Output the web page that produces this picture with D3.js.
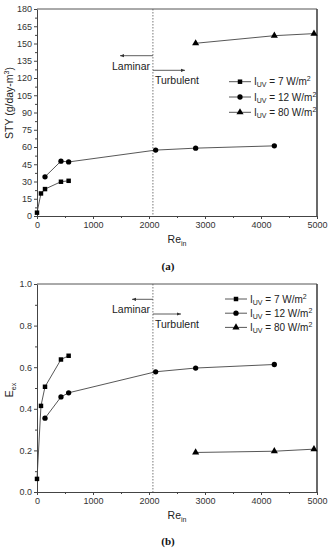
<title>STY and Eex vs Re</title>
<style>
  body { margin: 0; background: #fff; }
  svg { font-family: "Liberation Sans", Arial, sans-serif; }
</style>
<svg id="chart"></svg>
<script src="https://d3js.org/d3.v7.min.js"></script>
<script>
  // data
  var re7 = [0, 71, 143, 428, 565];
  var re12 = [143, 428, 565, 2119, 2833, 4238];
  var re80 = [2833, 4238, 4946];

  var sty7 = [2.9, 19.6, 23.4, 29.8, 30.6];
  var sty12 = [34.1, 47.7, 47.0, 57.3, 59.0, 61.0];
  var sty80 = [150.2, 156.8, 158.6];

  var eex7 = [0.063, 0.414, 0.506, 0.637, 0.655];
  var eex12 = [0.355, 0.457, 0.477, 0.578, 0.596, 0.613];
  var eex80 = [0.190, 0.196, 0.206];

  var legendLabels = ["7", "12", "80"];
  var reTransition = 2070;

  var width = 333, height = 550;
  var svg = d3.select("#chart").attr("width", width).attr("height", height);

  var x = d3.scaleLinear().domain([0, 5000]).range([37, 317]);

  function toPoints(xs, ys) {
    return xs.map(function(v, i) { return [v, ys[i]]; });
  }

  function drawPanel(opts) {
    var g = svg.append("g");
    var y = d3.scaleLinear().domain(opts.domain).range([opts.bottom, opts.top]);

    // minor ticks
    g.append("g")
      .attr("transform", "translate(0," + opts.bottom + ")")
      .call(d3.axisBottom(x).tickValues(d3.range(500, 5000, 1000)).tickSize(2).tickFormat(""))
      .call(function(a) { a.select(".domain").remove(); a.selectAll("line").attr("stroke", "#444"); });
    g.append("g")
      .attr("transform", "translate(37,0)")
      .call(d3.axisLeft(y).tickValues(opts.minor).tickSize(2).tickFormat(""))
      .call(function(a) { a.select(".domain").remove(); a.selectAll("line").attr("stroke", "#444"); });

    // major axes
    var xa = g.append("g")
      .attr("transform", "translate(0," + opts.bottom + ")")
      .call(d3.axisBottom(x).tickValues(d3.range(0, 5001, 1000)).tickFormat(d3.format("d"))
        .tickSize(3).tickSizeOuter(0).tickPadding(3));
    var ya = g.append("g")
      .attr("transform", "translate(37,0)")
      .call(d3.axisLeft(y).tickValues(opts.major).tickFormat(opts.fmt).tickSize(3).tickSizeOuter(0).tickPadding(2));
    [xa, ya].forEach(function(a) {
      a.attr("font-family", null);
      a.selectAll("text").attr("font-size", 9).attr("fill", "#333");
      a.selectAll("line").attr("stroke", "#444");
      a.select(".domain").attr("stroke", "#444");
    });

    // frame top and right
    g.append("line").attr("x1", 37).attr("x2", 317).attr("y1", opts.top).attr("y2", opts.top)
      .attr("stroke", "#555").attr("stroke-width", 1);
    g.append("line").attr("x1", 317).attr("x2", 317).attr("y1", opts.top).attr("y2", opts.bottom)
      .attr("stroke", "#444").attr("stroke-width", 1.6);

    // transition line
    g.append("line")
      .attr("x1", x(reTransition)).attr("x2", x(reTransition))
      .attr("y1", opts.top).attr("y2", opts.bottom)
      .attr("stroke", "#555").attr("stroke-width", 0.8).attr("stroke-dasharray", "1.5,1.5");

    // arrows
    var xt = x(reTransition);
    function arrow(y0, x1) {
      g.append("line").attr("x1", xt).attr("x2", x1).attr("y1", y0).attr("y2", y0)
        .attr("stroke", "#333").attr("stroke-width", 0.8);
      var d = x1 < xt ? 1 : -1;
      g.append("path")
        .attr("d", "M" + x1 + "," + y0 + "l" + (4 * d) + ",-1.6l0,3.2z")
        .attr("fill", "#333");
    }
    arrow(opts.lamY, opts.lamX);
    arrow(opts.turbY, opts.turbX);
    g.append("text").attr("x", 131).attr("y", opts.lamY + 14).attr("text-anchor", "middle")
      .attr("font-size", 10.5).attr("fill", "#222").text("Laminar");
    g.append("text").attr("x", 155).attr("y", opts.turbY + 14)
      .attr("font-size", 10.5).attr("fill", "#222").text("Turbulent");

    // series
    var line = d3.line().x(function(d) { return x(d[0]); }).y(function(d) { return y(d[1]); });
    var shapes = [d3.symbolSquare, d3.symbolCircle, d3.symbolTriangle];
    var sizes = [20, 22, 22];
    opts.series.forEach(function(pts, i) {
      g.append("path").attr("d", line(pts)).attr("fill", "none")
        .attr("stroke", "#444").attr("stroke-width", 0.9);
      g.selectAll(null).data(pts).enter().append("path")
        .attr("transform", function(d) { return "translate(" + x(d[0]) + "," + y(d[1]) + ")"; })
        .attr("d", d3.symbol().type(shapes[i]).size(sizes[i]))
        .attr("fill", "#000");
    });

    // legend
    legendLabels.forEach(function(lab, i) {
      var ly = opts.legY + i * opts.legStep;
      g.append("line").attr("x1", opts.legX).attr("x2", opts.legX + 22).attr("y1", ly).attr("y2", ly)
        .attr("stroke", "#444").attr("stroke-width", 0.9);
      g.append("path").attr("transform", "translate(" + (opts.legX + 11) + "," + ly + ")")
        .attr("d", d3.symbol().type(shapes[i]).size(sizes[i])).attr("fill", "#000");
      var t = g.append("text").attr("x", opts.legX + 25).attr("y", ly + 3.5)
        .attr("font-size", 10).attr("fill", "#222");
      t.append("tspan").text("I");
      t.append("tspan").attr("font-size", 7).attr("dy", 2).text("UV");
      t.append("tspan").attr("dy", -2).text(" = " + lab + " W/m");
      t.append("tspan").attr("font-size", 7).attr("dy", -4).text("2");
    });

    // axis titles
    var xl = g.append("text").attr("x", 177).attr("y", opts.bottom + 27).attr("text-anchor", "middle")
      .attr("font-size", 10.5).attr("fill", "#222");
    xl.append("tspan").text("Re");
    xl.append("tspan").attr("font-size", 7).attr("dy", 2.5).text("in");

    var yl = g.append("text")
      .attr("transform", "translate(13," + opts.yLabelY + ") rotate(-90)")
      .attr("text-anchor", "middle").attr("font-size", 10.5).attr("fill", "#222");
    opts.yLabel(yl);

    g.append("text").attr("x", 168).attr("y", opts.capY)
      .attr("text-anchor", "middle").style("font-family", "'Liberation Serif', serif")
      .attr("font-size", 11).attr("font-weight", "bold").attr("fill", "#111")
      .text(opts.caption);
  }

  drawPanel({
    top: 9, bottom: 216,
    domain: [0, 180],
    major: d3.range(0, 181, 15),
    minor: d3.range(7.5, 180, 15),
    fmt: d3.format("d"),
    series: [toPoints(re7, sty7), toPoints(re12, sty12), toPoints(re80, sty80)],
    lamY: 55.7, lamX: 120, turbY: 70.3, turbX: 185,
    legX: 229, legY: 81.7, legStep: 15.3,
    yLabelY: 103,
    yLabel: function(t) {
      t.append("tspan").text("STY (g/day-m");
      t.append("tspan").attr("font-size", 7).attr("dy", -4).text("3");
      t.append("tspan").attr("dy", 4).text(")");
    },
    capY: 270, caption: "(a)"
  });

  drawPanel({
    top: 284, bottom: 492,
    domain: [0, 1],
    major: d3.range(0, 1.01, 0.2),
    minor: d3.range(0.1, 1, 0.2),
    fmt: d3.format(".1f"),
    series: [toPoints(re7, eex7), toPoints(re12, eex12), toPoints(re80, eex80)],
    lamY: 299.3, lamX: 132, turbY: 314, turbX: 181,
    legX: 225, legY: 299, legStep: 14.2,
    yLabelY: 390,
    yLabel: function(t) {
      t.append("tspan").text("E");
      t.append("tspan").attr("font-size", 7).attr("dy", 2.5).text("ex");
    },
    capY: 545, caption: "(b)"
  });
</script>
